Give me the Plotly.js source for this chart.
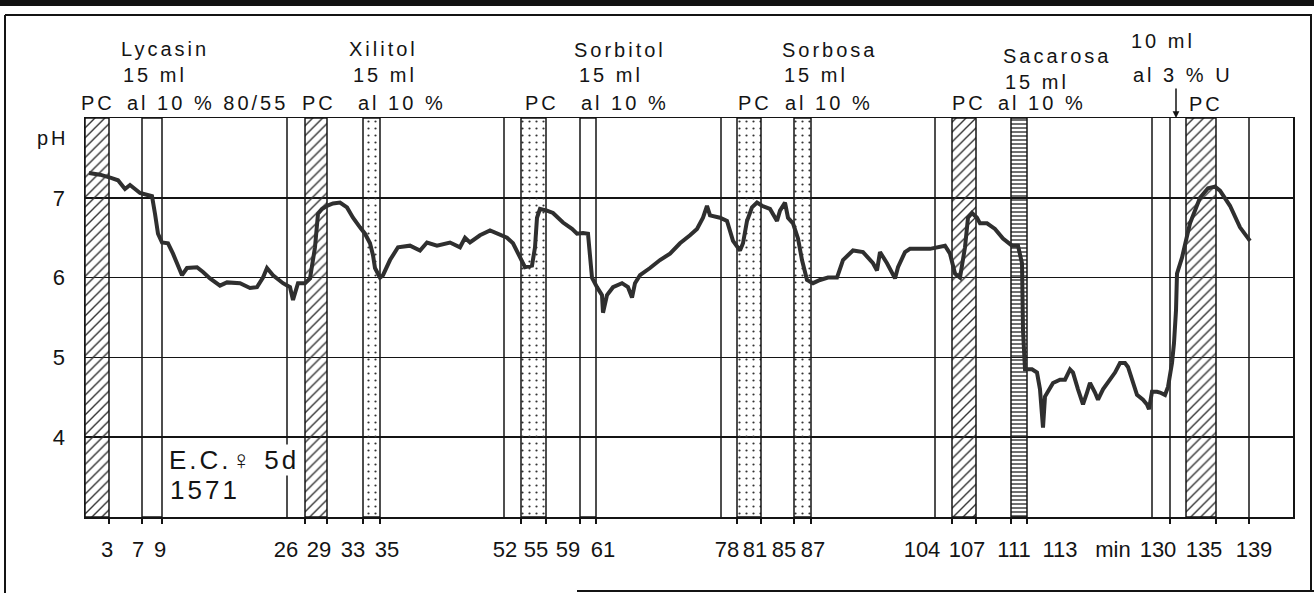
<!DOCTYPE html>
<html>
<head>
<meta charset="utf-8">
<script src="https://cdn.plot.ly/plotly-3.0.1.min.js"></script>
<style>
html,body{margin:0;padding:0;background:#fff;}
#chart{width:1314px;height:593px;}
.annotation-text{letter-spacing:3px;}
</style>
</head>
<body>
<div id="chart"></div>
<script>
// ---- DATA (x = position along the recorder strip, chart units; y = pH) ----
const chartPos = [
  4,15,26,33,40,45,55,67,70,73,
  77,83,88,95,97,102,112,118,125,135,
  142,155,165,172,178,182,188,198,205,208,
  213,220,225,230,233,237,242,248,255,262,
  268,275,280,285,288,290,295,298,305,313,
  325,335,342,352,365,375,380,385,395,405,
  415,422,428,435,440,447,450,452,455,462,
  468,478,487,492,498,503,505,507,512,517,
  518,522,528,537,543,547,550,555,565,575,
  585,595,605,612,618,622,625,635,642,648,
  655,658,662,667,672,677,685,692,695,700,
  703,708,713,717,722,728,735,743,752,758,
  768,778,788,792,795,802,810,813,820,825,
  845,860,865,870,875,880,883,887,892,895,
  902,910,918,927,933,937,938,940,947,952,
  955,958,960,965,968,975,980,985,988,993,
  998,1002,1005,1010,1013,1018,1025,1030,1035,1040,
  1043,1047,1052,1058,1062,1064,1067,1072,1075,1080,
  1083,1087,1089,1091,1092,1097,1105,1115,1123,1130,
  1135,1145,1155,1165
];
const pHValues = [
  7.31,7.29,7.25,7.22,7.11,7.16,7.06,7.02,6.80,6.55,
  6.44,6.43,6.30,6.09,6.03,6.12,6.13,6.07,5.99,5.90,
  5.94,5.93,5.87,5.88,6.00,6.12,6.03,5.93,5.88,5.72,
  5.93,5.93,5.99,6.38,6.80,6.86,6.90,6.93,6.94,6.88,
  6.75,6.63,6.55,6.43,6.28,6.12,6.00,6.03,6.22,6.38,
  6.40,6.34,6.44,6.40,6.44,6.38,6.50,6.44,6.53,6.59,
  6.53,6.50,6.43,6.25,6.13,6.15,6.38,6.75,6.86,6.84,
  6.81,6.69,6.61,6.55,6.56,6.55,6.25,6.00,5.88,5.78,
  5.56,5.78,5.88,5.93,5.88,5.75,5.93,6.03,6.12,6.22,
  6.30,6.43,6.53,6.61,6.75,6.90,6.78,6.75,6.71,6.46,
  6.34,6.43,6.71,6.88,6.94,6.90,6.86,6.71,6.84,6.94,
  6.75,6.68,6.49,6.22,5.97,5.93,5.97,6.00,6.00,6.22,
  6.34,6.32,6.18,6.09,6.32,6.18,5.99,6.13,6.32,6.36,
  6.36,6.40,6.30,6.05,6.00,6.38,6.75,6.81,6.75,6.68,
  6.68,6.61,6.49,6.40,6.40,6.18,5.34,4.85,4.85,4.81,
  4.60,4.12,4.51,4.62,4.68,4.72,4.72,4.85,4.81,4.60,
  4.41,4.56,4.68,4.56,4.47,4.60,4.72,4.81,4.93,4.93,
  4.88,4.72,4.53,4.47,4.41,4.35,4.57,4.57,4.56,4.53,
  4.63,4.93,5.18,5.59,6.05,6.25,6.68,7.00,7.12,7.14,
  7.09,6.90,6.63,6.46
];

// marked intervals on the strip (PC = application periods, sugar solutions)
const bandStart   = [0, 57, 220, 278, 436, 495, 652, 709, 867, 926, 1101];
const bandEnd     = [24, 77, 242, 295, 461, 511, 676, 726, 891, 942, 1131];
const bandTexture = ['hatch','plain','hatch','dots','dots','plain','dots','dots','hatch','lines','hatch'];

// single vertical time marks
const markLines = [202, 419, 636, 850, 1067, 1085, 1164];
// small tick marks under the axis
const tickMarks = [24, 57, 77, 220, 242, 278, 295, 436, 461, 495, 511, 652, 676, 709, 726, 867, 891, 926, 942, 1085, 1131, 1164];

// x tick labels (minutes)
const tickLabels   = ['3','7','9','26','29','33','35','52','55','59','61','78','81','85','87','104','107','111','113','min','130','135','139'];
const tickLabelPos = [22,53,75,201,234,268,302,420,451,483,518,642,670,699,728,837,882,929,975,1028,1073,1119,1169];

// y ticks
const pHTicks = [4, 5, 6, 7];

// header texts
const headerText = ['Lycasin','15 ml','PC','al 10 % 80/55',
                    'Xilitol','15 ml','PC','al 10 %',
                    'Sorbitol','15 ml','PC','al 10 %',
                    'Sorbosa','15 ml','PC','al 10 %',
                    'Sacarosa','15 ml','PC','al 10 %',
                    '10 ml','al 3 % U','PC'];
const headerX = [80,70,13,122, 298,300,234,317, 535,526,457,540, 745,731,670,744, 972,952,884,957, 1078,1098,1121];
const headerRow = [1.173,1.108,1.038,1.038, 1.173,1.108,1.038,1.038, 1.170,1.108,1.038,1.038, 1.170,1.108,1.038,1.038, 1.155,1.090,1.038,1.038, 1.193,1.108,1.035];

// ---- BUILD ----
const X0 = 0, X1 = 1208, Y0 = 3, Y1 = 8;
const INK = '#141414';

const texMap = {
  hatch: {shape:'/', size:7, solidity:0.2},
  plain: {shape:'', size:8, solidity:0.1},
  dots:  {shape:'.', size:7, solidity:0.08},
  lines: {shape:'-', size:4, solidity:0.35}
};

const bars = {
  type:'bar',
  x: bandStart.map((s,i)=>(s+bandEnd[i])/2),
  width: bandStart.map((s,i)=>bandEnd[i]-s),
  base: bandStart.map(()=>Y0),
  y: bandStart.map(()=>Y1-Y0),
  marker:{
    color:'rgba(0,0,0,0)',
    line:{color:INK, width:1.5},
    pattern:{
      shape: bandTexture.map(t=>texMap[t].shape),
      size: bandTexture.map(t=>texMap[t].size),
      solidity: bandTexture.map(t=>texMap[t].solidity),
      fgcolor:'#333', bgcolor:'rgba(0,0,0,0)'
    }
  },
  hoverinfo:'skip'
};

const curve = {
  type:'scatter', mode:'lines',
  x: chartPos, y: pHValues,
  line:{color:'#2f2f2f', width:4},
  hoverinfo:'skip'
};

function px2x(px){ return (px-85)/1208; }
function py2y(py){ return (517-py)/399; }

const shapes = [];
markLines.forEach(v=>shapes.push({type:'line', xref:'x', yref:'paper', x0:v, x1:v, y0:0, y1:1, line:{color:INK, width:1.5}, layer:'below'}));
// outer frame
shapes.push({type:'rect', xref:'paper', yref:'paper', x0:px2x(0), x1:px2x(1314), y0:py2y(6), y1:py2y(0), fillcolor:'#111', line:{width:0}});
shapes.push({type:'line', xref:'paper', yref:'paper', x0:px2x(5), x1:px2x(5), y0:py2y(15), y1:py2y(593), line:{color:INK, width:2}});
shapes.push({type:'line', xref:'paper', yref:'paper', x0:px2x(5), x1:px2x(1312), y0:py2y(15), y1:py2y(15), line:{color:INK, width:2}});
shapes.push({type:'line', xref:'paper', yref:'paper', x0:px2x(1311), x1:px2x(1311), y0:py2y(15), y1:py2y(591), line:{color:INK, width:2}});
shapes.push({type:'line', xref:'paper', yref:'paper', x0:px2x(577), x1:px2x(1314), y0:py2y(591), y1:py2y(591), line:{color:INK, width:2}});

const hdrFont = {family:'Liberation Sans', size:20, color:INK};
const annotations = headerText.map((t,i)=>({
  text:t, x:headerX[i], xref:'x', y:headerRow[i], yref:'paper',
  xanchor:'center', yanchor:'middle', showarrow:false, font:hdrFont
}));
annotations.push({text:'pH', x:px2x(53), xref:'paper', y:7.75, yref:'y', xanchor:'center', yanchor:'middle', showarrow:false, font:hdrFont});
annotations.push({text:'E.C.♀ 5d', x:83, xref:'x', y:3.72, yref:'y', xanchor:'left', yanchor:'middle', showarrow:false,
  font:{family:'Liberation Sans', size:26, color:INK}, bgcolor:'#ffffff', borderpad:0});
annotations.push({text:'1571', x:83, xref:'x', y:3.34, yref:'y', xanchor:'left', yanchor:'middle', showarrow:false,
  font:{family:'Liberation Sans', size:26, color:INK}});
// arrow for the 10 ml application
annotations.push({text:' ', x:1091, xref:'x', y:1, yref:'paper', ax:0, ay:-38, showarrow:true,
  arrowhead:2, arrowsize:0.9, arrowwidth:1.5, arrowcolor:INK});

const layout = {
  width:1314, height:593,
  margin:{l:85, r:21, t:118, b:76},
  paper_bgcolor:'#ffffff', plot_bgcolor:'#ffffff',
  showlegend:false,
  barmode:'overlay', bargap:0,
  font:{family:'Liberation Sans', color:INK},
  xaxis:{
    range:[X0, X1], showgrid:false, zeroline:false,
    showline:true, mirror:true, linecolor:INK, linewidth:1.5,
    tickmode:'array', tickvals:tickLabelPos, ticktext:tickLabels,
    ticks:'', tickfont:{family:'Liberation Sans', size:22, color:INK},
    ticklabelstandoff:12,
    minor:{tickmode:'array', tickvals:tickMarks, ticks:'outside', ticklen:5, tickwidth:1.5, tickcolor:INK, showgrid:false}
  },
  yaxis:{
    range:[Y0, Y1], zeroline:false,
    showline:true, mirror:true, linecolor:INK, linewidth:1.5,
    showgrid:true, gridcolor:INK, gridwidth:1.5,
    tickmode:'array', tickvals:pHTicks, ticktext:pHTicks.map(String),
    ticks:'', tickfont:{family:'Liberation Sans', size:22, color:INK},
    ticklabelstandoff:14
  },
  shapes:shapes,
  annotations:annotations
};

Plotly.newPlot('chart', [bars, curve], layout, {staticPlot:true, displayModeBar:false});
</script>
</body>
</html>
